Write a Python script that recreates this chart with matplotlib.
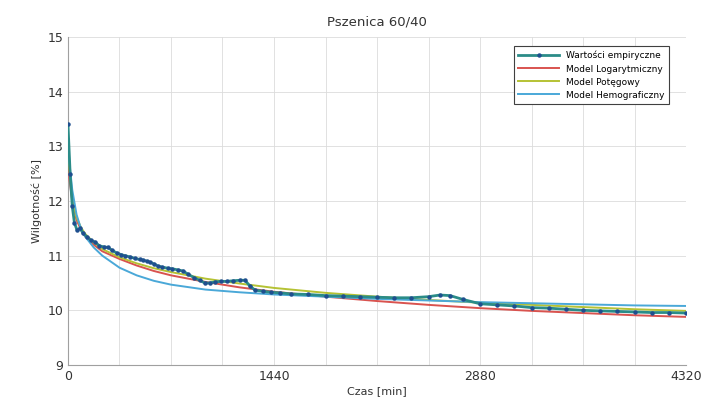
import numpy as np
import matplotlib
matplotlib.use("Agg")
import matplotlib.pyplot as plt

t_emp = [0, 15, 30, 45, 63, 85, 105, 130, 160, 189, 220, 252, 280, 307, 340, 370,
         398, 430, 468, 500, 524, 550, 573, 600, 629, 660, 699, 730, 768, 804, 840,
         880, 920, 957, 990, 1027, 1070, 1110, 1150, 1200, 1237, 1270, 1307, 1360,
         1420, 1481, 1560, 1680, 1800, 1920, 2040, 2160, 2280, 2400, 2520, 2600,
         2670, 2760, 2880, 3000, 3120, 3240, 3360, 3480, 3600, 3720, 3840, 3960,
         4080, 4200, 4320]
w_emp = [13.4, 12.5, 11.9, 11.6, 11.47, 11.5, 11.41, 11.35, 11.28, 11.25, 11.18,
         11.16, 11.15, 11.1, 11.05, 11.02, 11.0, 10.98, 10.95, 10.93, 10.92, 10.9,
         10.88, 10.85, 10.81, 10.79, 10.77, 10.76, 10.74, 10.72, 10.66, 10.6, 10.55,
         10.5, 10.5, 10.52, 10.53, 10.53, 10.54, 10.55, 10.55, 10.45, 10.37, 10.35,
         10.33, 10.32, 10.3, 10.29, 10.27, 10.26, 10.25, 10.24, 10.23, 10.23, 10.25,
         10.28, 10.27, 10.2, 10.12, 10.1, 10.08, 10.05, 10.04, 10.02, 10.0, 9.99,
         9.98, 9.97, 9.96, 9.96, 9.95]

# model curves
t_mod = [0, 10, 30, 60, 90, 120, 180, 240, 360, 480, 600, 720, 960, 1200, 1440,
         1800, 2160, 2520, 2880, 3240, 3600, 3960, 4320]
w_log = [12.9, 12.4, 12.0, 11.65, 11.48, 11.35, 11.2, 11.08, 10.94, 10.82, 10.72,
         10.64, 10.52, 10.42, 10.34, 10.25, 10.17, 10.1, 10.04, 9.99, 9.95, 9.91, 9.88]
w_pot = [13.0, 12.6, 12.0, 11.7, 11.52, 11.4, 11.24, 11.12, 10.97, 10.86, 10.77,
         10.7, 10.58, 10.49, 10.41, 10.32, 10.25, 10.19, 10.14, 10.1, 10.06, 10.02, 9.99]
w_hem = [13.2, 12.7, 12.2, 11.75, 11.5, 11.35, 11.15, 11.0, 10.78, 10.64, 10.54,
         10.47, 10.38, 10.33, 10.29, 10.25, 10.21, 10.18, 10.15, 10.13, 10.11, 10.09, 10.08]

fig = plt.figure(figsize=(7.06, 4.0), dpi=100)
ax = fig.add_axes([0.0963, 0.0875, 0.8754, 0.82])

ax.plot(t_mod, w_log, color="#d9534f", lw=1.4, label="Model Logarytmiczny", zorder=3)
ax.plot(t_mod, w_pot, color="#b5c234", lw=1.4, label="Model Potęgowy", zorder=3)
ax.plot(t_mod, w_hem, color="#4aa8d8", lw=1.4, label="Model Hemograficzny", zorder=3)
ax.plot(t_emp, w_emp, color="#2b8c88", lw=2.0, marker="o", ms=2.2,
        mfc="#1f4f8f", mec="#1f4f8f", label="Wartości empiryczne", zorder=4)

ax.set_xlim(0, 4320)
ax.set_ylim(9, 15)
ax.set_xticks([0, 1440, 2880, 4320])
ax.set_xticks(np.arange(0, 4321, 360), minor=True)
ax.set_yticks(np.arange(9, 16, 1))
ax.grid(which="both", color="#dcdcdc", lw=0.6)
ax.tick_params(which="both", length=0, labelsize=9, colors="#333333")
for s in ["top", "right"]:
    ax.spines[s].set_visible(False)
for s in ["left", "bottom"]:
    ax.spines[s].set_color("#a0a0a0")

ax.set_title("Pszenica 60/40", fontsize=9.5, color="#333333", pad=8)
ax.set_xlabel("Czas [min]", fontsize=8, color="#333333", labelpad=2)
ax.set_ylabel("Wilgotność [%]", fontsize=8, color="#333333", labelpad=4)

h, l = ax.get_legend_handles_labels()
order = [3, 0, 1, 2]
leg = ax.legend([h[i] for i in order], [l[i] for i in order], loc="upper right",
                bbox_to_anchor=(0.98, 0.985), fontsize=6.5, fancybox=False,
                framealpha=1, edgecolor="#404040", handlelength=4.5, borderpad=0.5,
                labelspacing=0.45)
leg.get_frame().set_linewidth(0.8)

fig.savefig("out.png", dpi=100)
